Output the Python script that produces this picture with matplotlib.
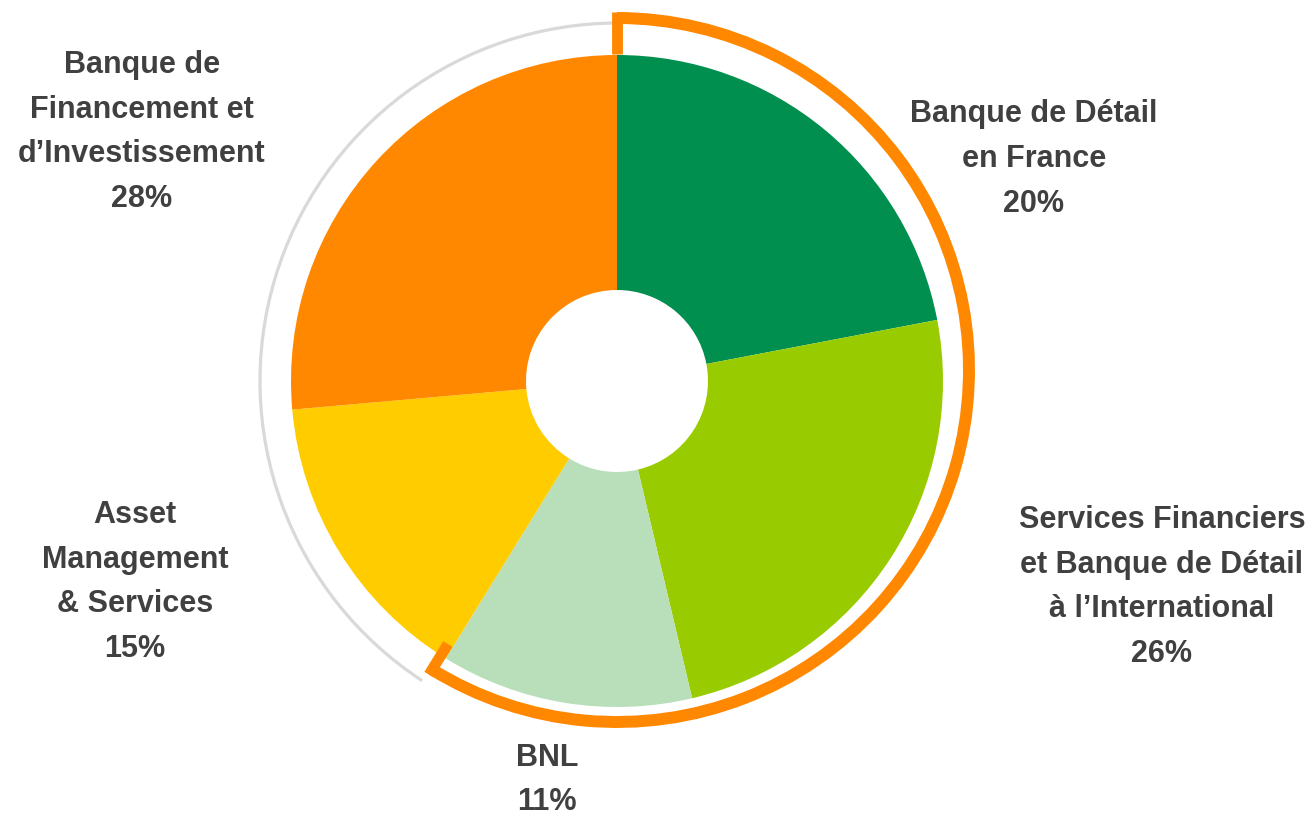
import matplotlib
matplotlib.use("Agg")
import matplotlib.pyplot as plt
from matplotlib.patches import Arc
import numpy as np

# données
segments = [
    "Banque de Détail\nen France",
    "Services Financiers\net Banque de Détail\nà l’International",
    "BNL",
    "Asset\nManagement\n& Services",
    "Banque de\nFinancement et\nd’Investissement",
]
pct_labels = ["20%", "26%", "11%", "15%", "28%"]
shares = [22.0, 24.3, 12.5, 14.8, 26.4]  # angles mesurés sur le dessin
colors = ["#008F4F", "#99CC00", "#B8DFBA", "#FFCC00", "#FF8800"]
n_highlight = 3  # BDF + SF + BNL entourés en orange

# position des étiquettes (pixels, origine en bas à gauche)
label_xy = [(1034, 657), (1162, 229), (547, 36), (135, 234), (142, 684)]

W, H = 1316, 816
fig = plt.figure(figsize=(W / 100, H / 100), dpi=100)
ax = fig.add_axes([0, 0, 1, 1])

cx, cy = 617, H - 381
r_out, r_in = 326, 91

ax.pie(shares, colors=colors, startangle=90, counterclock=False,
       center=(cx, cy), radius=r_out,
       wedgeprops=dict(width=r_out - r_in, linewidth=0))

# arc orange autour des trois premiers métiers, gris pour le reste
ox, oy, orad = 617, H - 370, 352
end_angle = 90 - 360 * sum(shares[:n_highlight]) / sum(shares)
ax.add_patch(Arc((cx + 1, cy), 2 * 358, 2 * 358, theta1=90, theta2=360 + end_angle - 1.5,
                 color="#D9D9D9", linewidth=2.3, zorder=3))
ax.add_patch(Arc((ox, oy), 2 * orad, 2 * orad, theta1=end_angle, theta2=90,
                 color="#FF8800", linewidth=8.6, zorder=4))
for ang, r_end in ((90, 316), (end_angle, 322)):
    a = np.radians(ang)
    ax.plot([ox + (orad + 6) * np.cos(a), ox + r_end * np.cos(a)],
            [oy + (orad + 6) * np.sin(a), oy + r_end * np.sin(a)],
            color="#FF8800", linewidth=7.8, solid_capstyle="butt", zorder=4)

for (x, y), name, pct in zip(label_xy, segments, pct_labels):
    ax.text(x, y, name + "\n" + pct, ha="center", va="center",
            fontsize=22, fontweight="bold", color="#404040",
            family="Liberation Sans", linespacing=1.64)

ax.set_xlim(0, W)
ax.set_ylim(0, H)
ax.set_aspect("equal")
ax.axis("off")

fig.savefig("out.png", dpi=100, facecolor="white")
